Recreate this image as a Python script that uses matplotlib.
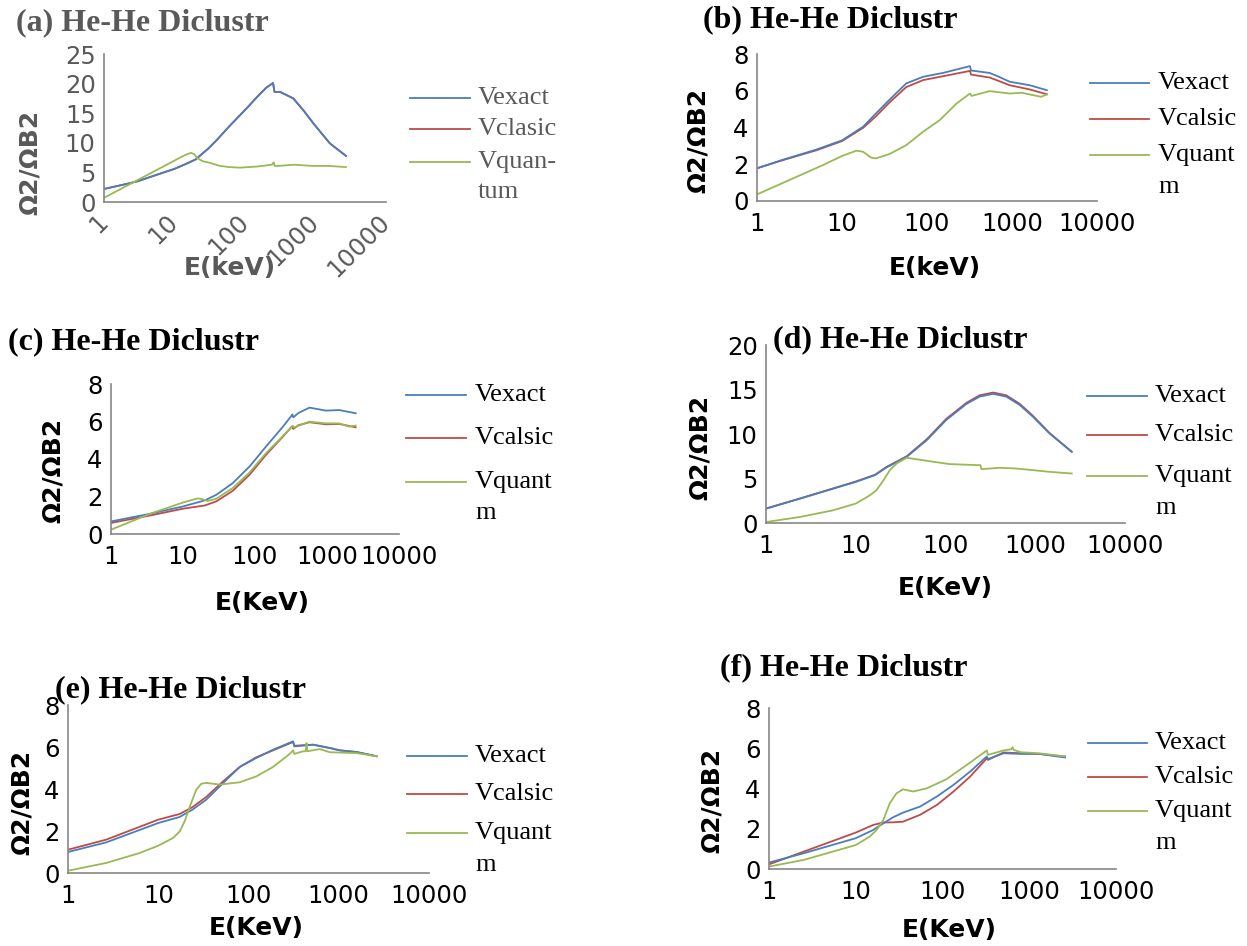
import matplotlib
matplotlib.use('Agg')
import matplotlib.pyplot as plt
from matplotlib.lines import Line2D
from matplotlib.ticker import FixedLocator, FixedFormatter, NullLocator

# ---- data (E in keV, y = Omega2/OmegaB2) ----
# (a)
e_a_exact = [1, 2, 3, 5, 10, 15, 20, 25, 30, 40, 60, 105, 150, 200, 250, 262, 315, 484, 673, 930, 1600, 2700]
v_a_exact = [2.2, 3.0, 3.5, 4.4, 5.6, 6.5, 7.2, 8.2, 9.0, 10.5, 12.8, 15.8, 17.8, 19.3, 20.1, 18.6, 18.6, 17.5, 15.5, 13.3, 9.9, 7.8]
e_a_clasic = list(e_a_exact)
v_a_clasic = list(v_a_exact)
e_a_quant = [1, 2, 3, 5, 10, 14, 17, 19, 21, 25, 32, 44, 60, 85, 150, 240, 255, 262, 300, 500, 900, 1500, 2700]
v_a_quant = [0.7, 2.6, 3.7, 5.1, 7.0, 7.9, 8.3, 8.1, 7.4, 6.9, 6.6, 6.1, 5.9, 5.8, 6.0, 6.3, 6.7, 6.1, 6.1, 6.3, 6.1, 6.1, 5.9]

# (b)
e_b = [1, 2, 5, 10, 17.7, 25, 36, 57, 90, 154, 320, 330, 545, 710, 940, 1620, 2570]
v_b_exact = [1.78, 2.24, 2.8, 3.3, 4.04, 4.76, 5.5, 6.4, 6.76, 6.97, 7.34, 7.1, 6.97, 6.75, 6.49, 6.3, 6.03]
v_b_clasic = [1.78, 2.22, 2.76, 3.26, 3.98, 4.6, 5.35, 6.2, 6.58, 6.79, 7.08, 6.88, 6.72, 6.52, 6.3, 6.07, 5.81]
e_b_quant = [1, 2.4, 6, 10, 14.8, 17.7, 22, 25, 36, 57, 90, 141, 222, 320, 335, 545, 940, 1300, 2200, 2570]
v_b_quant = [0.36, 1.14, 1.96, 2.45, 2.74, 2.68, 2.36, 2.32, 2.55, 3.04, 3.77, 4.4, 5.3, 5.85, 5.72, 5.98, 5.85, 5.89, 5.67, 5.8]

# (c)
e_c = [1, 3.5, 10, 20, 29, 49, 84, 142, 245, 320, 330, 340, 400, 570, 970, 1480, 2500]
v_c_exact = [0.67, 1.08, 1.47, 1.79, 2.09, 2.71, 3.6, 4.66, 5.73, 6.3, 6.38, 6.22, 6.45, 6.74, 6.58, 6.61, 6.44]
v_c_clasic = [0.59, 0.99, 1.35, 1.52, 1.74, 2.3, 3.16, 4.22, 5.2, 5.7, 5.73, 5.6, 5.8, 5.96, 5.85, 5.87, 5.69]
e_c_quant = [1, 3.5, 10, 16, 18.5, 22, 29, 49, 84, 142, 245, 334, 345, 570, 970, 1480, 2000, 2500]
v_c_quant = [0.23, 1.08, 1.68, 1.9, 1.86, 1.76, 1.88, 2.45, 3.28, 4.31, 5.23, 5.78, 5.68, 5.99, 5.9, 5.9, 5.73, 5.78]

# (d)
e_d = [1, 2.4, 10, 16.4, 22, 37, 62, 102, 171, 240, 340, 475, 670, 940, 1440, 2550]
v_d_exact = [1.62, 2.74, 4.62, 5.38, 6.24, 7.44, 9.32, 11.58, 13.38, 14.2, 14.51, 14.2, 13.27, 11.95, 10.07, 8.0]
v_d_clasic = [1.62, 2.76, 4.66, 5.42, 6.3, 7.5, 9.42, 11.7, 13.5, 14.35, 14.66, 14.35, 13.4, 12.05, 10.12, 8.0]
e_d_quant = [1, 2.4, 5.6, 10, 14.4, 17, 20.4, 24, 28.6, 37, 73, 111, 230, 245, 251, 400, 600, 940, 1440, 2550]
v_d_quant = [0.11, 0.68, 1.43, 2.18, 3.12, 3.68, 4.81, 5.94, 6.69, 7.33, 6.88, 6.62, 6.5, 6.5, 6.05, 6.2, 6.13, 5.94, 5.75, 5.56]

# (e)
e_e = [1, 2.66, 10, 17.3, 24, 34, 52.5, 80, 122, 187, 312, 322, 520, 800, 1030, 1580, 2620]
v_e_exact = [1.0, 1.46, 2.38, 2.67, 3.02, 3.49, 4.29, 5.05, 5.48, 5.87, 6.27, 6.03, 6.11, 5.95, 5.84, 5.76, 5.56]
v_e_clasic = [1.11, 1.59, 2.54, 2.81, 3.14, 3.62, 4.37, 5.05, 5.51, 5.84, 6.24, 6.06, 6.11, 5.95, 5.84, 5.76, 5.56]
e_e_quant = [1, 2.66, 6.2, 10, 14.6, 17.3, 19.6, 22.4, 26.4, 30, 34, 48, 80, 122, 187, 288, 312, 322,
             400, 430, 440, 450, 615, 800, 1580, 2620]
v_e_quant = [0.11, 0.48, 0.95, 1.3, 1.67, 1.98, 2.46, 3.17, 3.97, 4.25, 4.29, 4.21, 4.32, 4.6, 5.05, 5.68, 5.84, 5.67,
             5.79, 5.8, 6.19, 5.8, 5.9, 5.75, 5.71, 5.56]

# (f)
e_f = [1, 2.5, 10, 15.9, 20.8, 27, 35, 55, 86, 134, 208, 324, 334, 505, 800, 1300, 2590]
v_f_exact = [0.32, 0.78, 1.53, 1.94, 2.27, 2.57, 2.8, 3.1, 3.6, 4.18, 4.84, 5.59, 5.46, 5.75, 5.72, 5.72, 5.54]
v_f_clasic = [0.23, 0.86, 1.81, 2.19, 2.31, 2.32, 2.35, 2.69, 3.18, 3.85, 4.59, 5.5, 5.42, 5.79, 5.75, 5.72, 5.59]
e_f_quant = [1, 2.5, 10, 14.5, 17.4, 20.8, 24.7, 29.5, 35, 46, 66, 111, 208, 324, 334, 505, 620, 640, 660, 800, 1300, 2590]
v_f_quant = [0.12, 0.45, 1.19, 1.61, 1.94, 2.44, 3.27, 3.76, 3.96, 3.85, 4.01, 4.46, 5.29, 5.89, 5.67, 5.89, 5.95, 6.05, 5.92, 5.8, 5.75, 5.59]

x_ticks = [1, 10, 100, 1000, 10000]
x_tick_labels = ['1', '10', '100', '1000', '10000']

# ---- styling ----
W, H = 1247, 946
BLUE, RED, GREEN = '#4A7EBB', '#BE4B48', '#98B954'
GRAY = '#595959'
AXIS = '#868686'
LW = 1.3
SERIF = 'Liberation Serif'
TICK_FS = 17.5
LEG_FS = 19

fig = plt.figure(figsize=(W / 100, H / 100), dpi=100)


def fx(px):
    return px / W


def fy(py):
    return 1 - py / H


# box = (left, top, right, bottom) in pixels
panels = [
    dict(title='(a) He-He Diclustr', box=(104, 54, 386, 202), ymax=25, ystep=5, gray=True,
         xlabel='E(keV)', title_xy=(16, 23), ylab_xy=(30, 162), xlab_xy=(230, 268),
         names=['Vexact', 'Vclasic', 'Vquan-\ntum'], leg=(410, 470, 478, [98, 129, 162, 192]),
         data=[(e_a_clasic, v_a_clasic, RED), (e_a_exact, v_a_exact, BLUE), (e_a_quant, v_a_quant, GREEN)]),
    dict(title='(b) He-He Diclustr', box=(757, 54, 1097, 201), ymax=8, ystep=2, gray=False,
         xlabel='E(keV)', title_xy=(703, 20), ylab_xy=(698, 140), xlab_xy=(935, 268),
         names=['Vexact', 'Vcalsic', 'Vquant\nm'], leg=(1090, 1149, 1158, [83, 119, 155, 187]),
         data=[(e_b, v_b_clasic, RED), (e_b, v_b_exact, BLUE), (e_b_quant, v_b_quant, GREEN)]),
    dict(title='(c) He-He Diclustr', box=(111, 384, 399, 534), ymax=8, ystep=2, gray=False,
         xlabel='E(KeV)', title_xy=(8, 342), ylab_xy=(53, 470), xlab_xy=(262, 603),
         names=['Vexact', 'Vcalsic', 'Vquant\nm'], leg=(406, 466, 475, [395, 438, 482, 513]),
         data=[(e_c, v_c_clasic, RED), (e_c, v_c_exact, BLUE), (e_c_quant, v_c_quant, GREEN)]),
    dict(title='(d) He-He Diclustr', box=(766, 345, 1125, 523), ymax=20, ystep=5, gray=False,
         xlabel='E(KeV)', title_xy=(773, 340), ylab_xy=(700, 447), xlab_xy=(945, 588),
         names=['Vexact', 'Vcalsic', 'Vquant\nm'], leg=(1087, 1147, 1155, [396, 435, 476, 508]),
         data=[(e_d, v_d_clasic, RED), (e_d, v_d_exact, BLUE), (e_d_quant, v_d_quant, GREEN)]),
    dict(title='(e) He-He Diclustr', box=(68, 705, 429, 873), ymax=8, ystep=2, gray=False,
         xlabel='E(KeV)', title_xy=(55, 690), ylab_xy=(22, 802), xlab_xy=(256, 928),
         names=['Vexact', 'Vcalsic', 'Vquant\nm'], leg=(407, 467, 475, [756, 794, 833, 865]),
         data=[(e_e, v_e_clasic, RED), (e_e, v_e_exact, BLUE), (e_e_quant, v_e_quant, GREEN)]),
    dict(title='(f) He-He Diclustr', box=(769, 708, 1116, 869), ymax=8, ystep=2, gray=False,
         xlabel='E(KeV)', title_xy=(720, 668), ylab_xy=(712, 800), xlab_xy=(949, 930),
         names=['Vexact', 'Vcalsic', 'Vquant\nm'], leg=(1088, 1147, 1155, [743, 777, 811, 843]),
         data=[(e_f, v_f_clasic, RED), (e_f, v_f_exact, BLUE), (e_f_quant, v_f_quant, GREEN)]),
]

for p in panels:
    L, T, R, B = p['box']
    tc = GRAY if p['gray'] else 'black'
    ax = fig.add_axes([fx(L), fy(B), (R - L) / W, (B - T) / H])
    ax.patch.set_alpha(0)
    for xs, ys, c in p['data']:
        ax.plot(xs, ys, color=c, lw=LW, solid_joinstyle='round')
    ax.set_xscale('log')
    ax.set_xlim(1, 10000)
    ax.set_ylim(0, p['ymax'])
    ax.xaxis.set_major_locator(FixedLocator(x_ticks))
    ax.xaxis.set_major_formatter(FixedFormatter(x_tick_labels))
    ax.xaxis.set_minor_locator(NullLocator())
    ax.set_yticks(range(0, p['ymax'] + 1, p['ystep']))
    for s in ['top', 'right']:
        ax.spines[s].set_visible(False)
    for s in ['left', 'bottom']:
        ax.spines[s].set_color(AXIS)
        ax.spines[s].set_linewidth(1.2)
    ax.tick_params(axis='both', length=0, labelsize=TICK_FS, colors=tc)
    ax.tick_params(axis='y', pad=6)
    ax.tick_params(axis='x', pad=8)
    if p['gray']:
        for lab in ax.get_xticklabels():
            lab.set_rotation(45)
            lab.set_ha('right')
            lab.set_va('center')
            lab.set_rotation_mode('anchor')
        ax.tick_params(axis='x', pad=12)

    # title, axis labels
    fig.text(fx(p['title_xy'][0]), fy(p['title_xy'][1]), p['title'], family=SERIF,
             weight='bold', fontsize=23, color=tc, ha='left', va='center')
    fig.text(fx(p['ylab_xy'][0]), fy(p['ylab_xy'][1]), 'Ω2/ΩB2', fontsize=18,
             weight='bold', color=tc, rotation=90, ha='center', va='center')
    fig.text(fx(p['xlab_xy'][0]), fy(p['xlab_xy'][1]), p['xlabel'], fontsize=18,
             weight='bold', color=tc, ha='center', va='center')

    # legend drawn by hand to sit where the original one is
    x0, x1, xt, ypos = p['leg']
    order = [p['data'][1][2], p['data'][0][2], p['data'][2][2]]
    for i, (name, c) in enumerate(zip(p['names'], order)):
        y = ypos[i]
        fig.add_artist(Line2D([fx(x0), fx(x1)], [fy(y), fy(y)], color=c, lw=LW))
        parts = name.split('\n')
        fig.text(fx(xt), fy(y), parts[0], family=SERIF, fontsize=LEG_FS, color=tc, va='center')
        if len(parts) > 1:
            fig.text(fx(xt), fy(ypos[3]), parts[1], family=SERIF, fontsize=LEG_FS, color=tc, va='center')

fig.savefig('out.png', dpi=100)
